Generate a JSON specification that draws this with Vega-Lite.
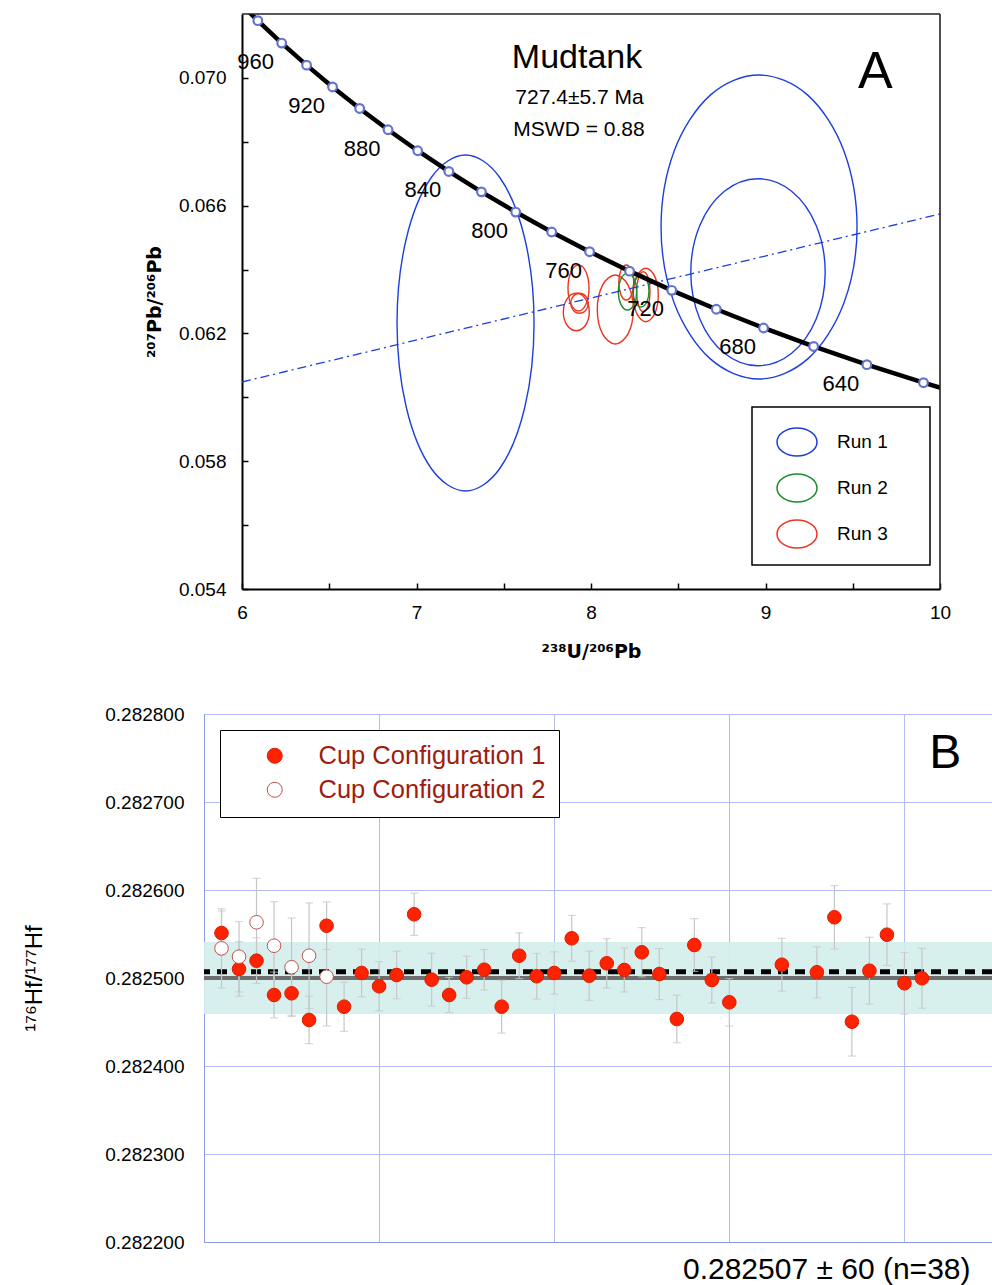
{
  "$schema": "https://vega.github.io/schema/vega-lite/v6.json",
  "background": "white",
  "padding": {"left": 22, "top": 11, "right": 0, "bottom": 0},
  "config": {"font": "Liberation Sans", "view": {"stroke": null}},
  "spacing": 43,
  "resolve": {
    "scale": {"color": "independent", "fill": "independent", "stroke": "independent"},
    "legend": {"color": "independent", "fill": "independent", "stroke": "independent"}
  },
  "datasets": {
    "conc": [
      {"t": 1000, "x": 5.95936, "y": 0.072501},
      {"t": 980, "x": 6.09066, "y": 0.071791},
      {"t": 960, "x": 6.22744, "y": 0.071090},
      {"t": 940, "x": 6.37005, "y": 0.070399},
      {"t": 920, "x": 6.51889, "y": 0.069716},
      {"t": 900, "x": 6.67433, "y": 0.069043},
      {"t": 880, "x": 6.83687, "y": 0.068377},
      {"t": 860, "x": 7.00696, "y": 0.067720},
      {"t": 840, "x": 7.18516, "y": 0.067071},
      {"t": 820, "x": 7.37210, "y": 0.066432},
      {"t": 800, "x": 7.56837, "y": 0.065800},
      {"t": 780, "x": 7.77473, "y": 0.065176},
      {"t": 760, "x": 7.99196, "y": 0.064559},
      {"t": 740, "x": 8.22098, "y": 0.063950},
      {"t": 720, "x": 8.46266, "y": 0.063350},
      {"t": 700, "x": 8.71823, "y": 0.062757},
      {"t": 680, "x": 8.98882, "y": 0.062171},
      {"t": 660, "x": 9.27583, "y": 0.061593},
      {"t": 640, "x": 9.58080, "y": 0.061022},
      {"t": 620, "x": 9.90546, "y": 0.060458},
      {"t": 600, "x": 10.2518, "y": 0.059901}
    ],
    "ell": [
      {"e": "E1", "run": "Run 1", "i": 0, "x": 7.6736, "y": 0.062327},
      {"e": "E1", "run": "Run 1", "i": 1, "x": 7.6210, "y": 0.064957},
      {"e": "E1", "run": "Run 1", "i": 2, "x": 7.4773, "y": 0.066881},
      {"e": "E1", "run": "Run 1", "i": 3, "x": 7.2810, "y": 0.067586},
      {"e": "E1", "run": "Run 1", "i": 4, "x": 7.0847, "y": 0.066881},
      {"e": "E1", "run": "Run 1", "i": 5, "x": 6.9410, "y": 0.064957},
      {"e": "E1", "run": "Run 1", "i": 6, "x": 6.8884, "y": 0.062327},
      {"e": "E1", "run": "Run 1", "i": 7, "x": 6.9410, "y": 0.059697},
      {"e": "E1", "run": "Run 1", "i": 8, "x": 7.0847, "y": 0.057773},
      {"e": "E1", "run": "Run 1", "i": 9, "x": 7.2810, "y": 0.057068},
      {"e": "E1", "run": "Run 1", "i": 10, "x": 7.4773, "y": 0.057773},
      {"e": "E1", "run": "Run 1", "i": 11, "x": 7.6210, "y": 0.059697},
      {"e": "E2", "run": "Run 1", "i": 0, "x": 9.5246, "y": 0.065332},
      {"e": "E2", "run": "Run 1", "i": 1, "x": 9.4493, "y": 0.067711},
      {"e": "E2", "run": "Run 1", "i": 2, "x": 9.2438, "y": 0.069452},
      {"e": "E2", "run": "Run 1", "i": 3, "x": 8.9630, "y": 0.070090},
      {"e": "E2", "run": "Run 1", "i": 4, "x": 8.6822, "y": 0.069452},
      {"e": "E2", "run": "Run 1", "i": 5, "x": 8.4767, "y": 0.067711},
      {"e": "E2", "run": "Run 1", "i": 6, "x": 8.4014, "y": 0.065332},
      {"e": "E2", "run": "Run 1", "i": 7, "x": 8.4767, "y": 0.062953},
      {"e": "E2", "run": "Run 1", "i": 8, "x": 8.6822, "y": 0.061212},
      {"e": "E2", "run": "Run 1", "i": 9, "x": 8.9630, "y": 0.060574},
      {"e": "E2", "run": "Run 1", "i": 10, "x": 9.2438, "y": 0.061212},
      {"e": "E2", "run": "Run 1", "i": 11, "x": 9.4493, "y": 0.062953},
      {"e": "E3", "run": "Run 1", "i": 0, "x": 9.3421, "y": 0.063917},
      {"e": "E3", "run": "Run 1", "i": 1, "x": 9.2905, "y": 0.065381},
      {"e": "E3", "run": "Run 1", "i": 2, "x": 9.1496, "y": 0.066452},
      {"e": "E3", "run": "Run 1", "i": 3, "x": 8.9570, "y": 0.066844},
      {"e": "E3", "run": "Run 1", "i": 4, "x": 8.7645, "y": 0.066452},
      {"e": "E3", "run": "Run 1", "i": 5, "x": 8.6235, "y": 0.065381},
      {"e": "E3", "run": "Run 1", "i": 6, "x": 8.5719, "y": 0.063917},
      {"e": "E3", "run": "Run 1", "i": 7, "x": 8.6235, "y": 0.062454},
      {"e": "E3", "run": "Run 1", "i": 8, "x": 8.7645, "y": 0.061382},
      {"e": "E3", "run": "Run 1", "i": 9, "x": 8.9570, "y": 0.060990},
      {"e": "E3", "run": "Run 1", "i": 10, "x": 9.1496, "y": 0.061382},
      {"e": "E3", "run": "Run 1", "i": 11, "x": 9.2905, "y": 0.062454},
      {"e": "R1", "run": "Run 3", "i": 0, "x": 7.9886, "y": 0.063423},
      {"e": "R1", "run": "Run 3", "i": 1, "x": 7.9710, "y": 0.063932},
      {"e": "R1", "run": "Run 3", "i": 2, "x": 7.9284, "y": 0.064143},
      {"e": "R1", "run": "Run 3", "i": 3, "x": 7.8858, "y": 0.063932},
      {"e": "R1", "run": "Run 3", "i": 4, "x": 7.8682, "y": 0.063423},
      {"e": "R1", "run": "Run 3", "i": 5, "x": 7.8858, "y": 0.062914},
      {"e": "R1", "run": "Run 3", "i": 6, "x": 7.9284, "y": 0.062703},
      {"e": "R1", "run": "Run 3", "i": 7, "x": 7.9710, "y": 0.062914},
      {"e": "R2", "run": "Run 3", "i": 0, "x": 7.9845, "y": 0.062944},
      {"e": "R2", "run": "Run 3", "i": 1, "x": 7.9698, "y": 0.063165},
      {"e": "R2", "run": "Run 3", "i": 2, "x": 7.9341, "y": 0.063257},
      {"e": "R2", "run": "Run 3", "i": 3, "x": 7.8985, "y": 0.063165},
      {"e": "R2", "run": "Run 3", "i": 4, "x": 7.8837, "y": 0.062944},
      {"e": "R2", "run": "Run 3", "i": 5, "x": 7.8985, "y": 0.062723},
      {"e": "R2", "run": "Run 3", "i": 6, "x": 7.9341, "y": 0.062631},
      {"e": "R2", "run": "Run 3", "i": 7, "x": 7.9698, "y": 0.062723},
      {"e": "R3", "run": "Run 3", "i": 0, "x": 7.9903, "y": 0.062671},
      {"e": "R3", "run": "Run 3", "i": 1, "x": 7.9685, "y": 0.063085},
      {"e": "R3", "run": "Run 3", "i": 2, "x": 7.9158, "y": 0.063256},
      {"e": "R3", "run": "Run 3", "i": 3, "x": 7.8631, "y": 0.063085},
      {"e": "R3", "run": "Run 3", "i": 4, "x": 7.8413, "y": 0.062671},
      {"e": "R3", "run": "Run 3", "i": 5, "x": 7.8631, "y": 0.062257},
      {"e": "R3", "run": "Run 3", "i": 6, "x": 7.9158, "y": 0.062086},
      {"e": "R3", "run": "Run 3", "i": 7, "x": 7.9685, "y": 0.062257},
      {"e": "R4", "run": "Run 3", "i": 0, "x": 8.2425, "y": 0.062750},
      {"e": "R4", "run": "Run 3", "i": 1, "x": 8.2123, "y": 0.063514},
      {"e": "R4", "run": "Run 3", "i": 2, "x": 8.1393, "y": 0.063830},
      {"e": "R4", "run": "Run 3", "i": 3, "x": 8.0663, "y": 0.063514},
      {"e": "R4", "run": "Run 3", "i": 4, "x": 8.0361, "y": 0.062750},
      {"e": "R4", "run": "Run 3", "i": 5, "x": 8.0663, "y": 0.061986},
      {"e": "R4", "run": "Run 3", "i": 6, "x": 8.1393, "y": 0.061670},
      {"e": "R4", "run": "Run 3", "i": 7, "x": 8.2123, "y": 0.061986},
      {"e": "R5", "run": "Run 3", "i": 0, "x": 8.2453, "y": 0.063595},
      {"e": "R5", "run": "Run 3", "i": 1, "x": 8.2327, "y": 0.063982},
      {"e": "R5", "run": "Run 3", "i": 2, "x": 8.2023, "y": 0.064143},
      {"e": "R5", "run": "Run 3", "i": 3, "x": 8.1719, "y": 0.063982},
      {"e": "R5", "run": "Run 3", "i": 4, "x": 8.1593, "y": 0.063595},
      {"e": "R5", "run": "Run 3", "i": 5, "x": 8.1719, "y": 0.063208},
      {"e": "R5", "run": "Run 3", "i": 6, "x": 8.2023, "y": 0.063047},
      {"e": "R5", "run": "Run 3", "i": 7, "x": 8.2327, "y": 0.063208},
      {"e": "R6", "run": "Run 3", "i": 0, "x": 8.3856, "y": 0.063204},
      {"e": "R6", "run": "Run 3", "i": 1, "x": 8.3646, "y": 0.063795},
      {"e": "R6", "run": "Run 3", "i": 2, "x": 8.3140, "y": 0.064040},
      {"e": "R6", "run": "Run 3", "i": 3, "x": 8.2634, "y": 0.063795},
      {"e": "R6", "run": "Run 3", "i": 4, "x": 8.2424, "y": 0.063204},
      {"e": "R6", "run": "Run 3", "i": 5, "x": 8.2634, "y": 0.062613},
      {"e": "R6", "run": "Run 3", "i": 6, "x": 8.3140, "y": 0.062368},
      {"e": "R6", "run": "Run 3", "i": 7, "x": 8.3646, "y": 0.062613},
      {"e": "R7", "run": "Run 3", "i": 0, "x": 8.3381, "y": 0.063307},
      {"e": "R7", "run": "Run 3", "i": 1, "x": 8.3269, "y": 0.063750},
      {"e": "R7", "run": "Run 3", "i": 2, "x": 8.2997, "y": 0.063933},
      {"e": "R7", "run": "Run 3", "i": 3, "x": 8.2726, "y": 0.063750},
      {"e": "R7", "run": "Run 3", "i": 4, "x": 8.2613, "y": 0.063307},
      {"e": "R7", "run": "Run 3", "i": 5, "x": 8.2726, "y": 0.062864},
      {"e": "R7", "run": "Run 3", "i": 6, "x": 8.2997, "y": 0.062681},
      {"e": "R7", "run": "Run 3", "i": 7, "x": 8.3269, "y": 0.062864},
      {"e": "G1", "run": "Run 2", "i": 0, "x": 8.2619, "y": 0.063307},
      {"e": "G1", "run": "Run 2", "i": 1, "x": 8.2465, "y": 0.063712},
      {"e": "G1", "run": "Run 2", "i": 2, "x": 8.2092, "y": 0.063880},
      {"e": "G1", "run": "Run 2", "i": 3, "x": 8.1719, "y": 0.063712},
      {"e": "G1", "run": "Run 2", "i": 4, "x": 8.1565, "y": 0.063307},
      {"e": "G1", "run": "Run 2", "i": 5, "x": 8.1719, "y": 0.062902},
      {"e": "G1", "run": "Run 2", "i": 6, "x": 8.2092, "y": 0.062734},
      {"e": "G1", "run": "Run 2", "i": 7, "x": 8.2465, "y": 0.062902},
      {"e": "G2", "run": "Run 2", "i": 0, "x": 8.3323, "y": 0.063329},
      {"e": "G2", "run": "Run 2", "i": 1, "x": 8.3189, "y": 0.063683},
      {"e": "G2", "run": "Run 2", "i": 2, "x": 8.2865, "y": 0.063829},
      {"e": "G2", "run": "Run 2", "i": 3, "x": 8.2541, "y": 0.063683},
      {"e": "G2", "run": "Run 2", "i": 4, "x": 8.2407, "y": 0.063329},
      {"e": "G2", "run": "Run 2", "i": 5, "x": 8.2541, "y": 0.062975},
      {"e": "G2", "run": "Run 2", "i": 6, "x": 8.2865, "y": 0.062829},
      {"e": "G2", "run": "Run 2", "i": 7, "x": 8.3189, "y": 0.062975}
    ],
    "hf": [
      {"i": 1, "v": 0.2825511, "err": 0.000025, "cfg": "Cup Configuration 1"},
      {"i": 2, "v": 0.2825102, "err": 0.000031, "cfg": "Cup Configuration 1"},
      {"i": 3, "v": 0.2825197, "err": 0.000026, "cfg": "Cup Configuration 1"},
      {"i": 4, "v": 0.2824807, "err": 0.000026, "cfg": "Cup Configuration 1"},
      {"i": 5, "v": 0.2824826, "err": 0.000025, "cfg": "Cup Configuration 1"},
      {"i": 6, "v": 0.2824523, "err": 0.000027, "cfg": "Cup Configuration 1"},
      {"i": 7, "v": 0.2825594, "err": 0.000027, "cfg": "Cup Configuration 1"},
      {"i": 8, "v": 0.2824674, "err": 0.000028, "cfg": "Cup Configuration 1"},
      {"i": 9, "v": 0.2825057, "err": 0.000027, "cfg": "Cup Configuration 1"},
      {"i": 10, "v": 0.2824906, "err": 0.000028, "cfg": "Cup Configuration 1"},
      {"i": 11, "v": 0.2825034, "err": 0.000027, "cfg": "Cup Configuration 1"},
      {"i": 12, "v": 0.2825724, "err": 0.000024, "cfg": "Cup Configuration 1"},
      {"i": 13, "v": 0.2824981, "err": 0.000030, "cfg": "Cup Configuration 1"},
      {"i": 14, "v": 0.2824807, "err": 0.000020, "cfg": "Cup Configuration 1"},
      {"i": 15, "v": 0.2825008, "err": 0.000024, "cfg": "Cup Configuration 1"},
      {"i": 16, "v": 0.2825094, "err": 0.000023, "cfg": "Cup Configuration 1"},
      {"i": 17, "v": 0.2824674, "err": 0.000030, "cfg": "Cup Configuration 1"},
      {"i": 18, "v": 0.2825253, "err": 0.000026, "cfg": "Cup Configuration 1"},
      {"i": 19, "v": 0.2825020, "err": 0.000026, "cfg": "Cup Configuration 1"},
      {"i": 20, "v": 0.2825057, "err": 0.000024, "cfg": "Cup Configuration 1"},
      {"i": 21, "v": 0.2825451, "err": 0.000026, "cfg": "Cup Configuration 1"},
      {"i": 22, "v": 0.2825026, "err": 0.000028, "cfg": "Cup Configuration 1"},
      {"i": 23, "v": 0.2825167, "err": 0.000028, "cfg": "Cup Configuration 1"},
      {"i": 24, "v": 0.2825091, "err": 0.000025, "cfg": "Cup Configuration 1"},
      {"i": 25, "v": 0.2825292, "err": 0.000028, "cfg": "Cup Configuration 1"},
      {"i": 26, "v": 0.2825045, "err": 0.000029, "cfg": "Cup Configuration 1"},
      {"i": 27, "v": 0.2824534, "err": 0.000027, "cfg": "Cup Configuration 1"},
      {"i": 28, "v": 0.2825375, "err": 0.000030, "cfg": "Cup Configuration 1"},
      {"i": 29, "v": 0.2824977, "err": 0.000026, "cfg": "Cup Configuration 1"},
      {"i": 30, "v": 0.2824724, "err": 0.000027, "cfg": "Cup Configuration 1"},
      {"i": 33, "v": 0.2825151, "err": 0.000030, "cfg": "Cup Configuration 1"},
      {"i": 35, "v": 0.2825065, "err": 0.000029, "cfg": "Cup Configuration 1"},
      {"i": 36, "v": 0.2825690, "err": 0.000036, "cfg": "Cup Configuration 1"},
      {"i": 37, "v": 0.2824503, "err": 0.000039, "cfg": "Cup Configuration 1"},
      {"i": 38, "v": 0.2825083, "err": 0.000038, "cfg": "Cup Configuration 1"},
      {"i": 39, "v": 0.2825492, "err": 0.000035, "cfg": "Cup Configuration 1"},
      {"i": 40, "v": 0.2824940, "err": 0.000035, "cfg": "Cup Configuration 1"},
      {"i": 41, "v": 0.2824997, "err": 0.000034, "cfg": "Cup Configuration 1"},
      {"i": 1, "v": 0.2825337, "err": 0.000045, "cfg": "Cup Configuration 2"},
      {"i": 2, "v": 0.2825242, "err": 0.000040, "cfg": "Cup Configuration 2"},
      {"i": 3, "v": 0.2825633, "err": 0.000050, "cfg": "Cup Configuration 2"},
      {"i": 4, "v": 0.2825367, "err": 0.000050, "cfg": "Cup Configuration 2"},
      {"i": 5, "v": 0.2825122, "err": 0.000056, "cfg": "Cup Configuration 2"},
      {"i": 6, "v": 0.2825253, "err": 0.000060, "cfg": "Cup Configuration 2"},
      {"i": 7, "v": 0.2825015, "err": 0.000056, "cfg": "Cup Configuration 2"}
    ]
  },
  "vconcat": [
    {
      "width": 736,
      "height": 575,
      "view": {"stroke": null},
      "layer": [
        {
          "data": {"name": "ell"},
          "mark": {"type": "line", "interpolate": "cardinal-closed", "strokeWidth": 1.4},
          "encoding": {
            "x": {
              "field": "x", "type": "quantitative",
              "scale": {"domain": [6, 10], "range": [38, 736], "nice": false, "zero": false},
              "axis": {
                "title": "²³⁸U/²⁰⁶Pb",
                "values": [6, 6.5, 7, 7.5, 8, 8.5, 9, 9.5, 10],
                "labelExpr": "datum.value % 1 === 0 ? format(datum.value, 'd') : ''",
                "labelOverlap": false, "labelFlush": false,
                "labelFontSize": 19, "labelColor": "black", "labelPadding": 20,
                "tickSize": -6, "tickColor": "black", "tickWidth": 1.5,
                "domainColor": "black", "domainWidth": 2, "grid": false,
                "titleFont": "DejaVu Sans", "titleFontSize": 19, "titleFontWeight": "bold", "titleColor": "black",
                "titleX": 387, "titlePadding": 20
              }
            },
            "y": {
              "field": "y", "type": "quantitative",
              "scale": {"domain": [0.054, 0.072], "nice": false, "zero": false},
              "axis": {
                "title": "²⁰⁷Pb/²⁰⁶Pb",
                "offset": -38,
                "values": [0.054, 0.056, 0.058, 0.06, 0.062, 0.064, 0.066, 0.068, 0.07],
                "labelExpr": "round(datum.value * 1000) % 4 === 2 ? format(datum.value, '.3f') : ''",
                "labelOverlap": false, "labelFlush": false,
                "labelFontSize": 19, "labelColor": "black", "labelPadding": 22,
                "tickSize": -6, "tickColor": "black", "tickWidth": 1.5,
                "domainColor": "black", "domainWidth": 2, "grid": false,
                "titleFont": "DejaVu Sans", "titleFontSize": 19, "titleFontWeight": "bold", "titleColor": "black",
                "titlePadding": 14
              }
            },
            "color": {
              "field": "run", "type": "nominal",
              "scale": {"domain": ["Run 1", "Run 2", "Run 3"], "range": ["#1d3fdc", "#1e8c2a", "#ec3520"]},
              "legend": {
                "orient": "none", "legendX": 548, "legendY": 393, "title": ".",
                "titleOrient": "right", "titleOpacity": 0, "titlePadding": 24,
                "padding": 14, "symbolOffset": 10,
                "symbolType": "M -1 0 A 1 0.7 0 1 0 1 0 A 1 0.7 0 1 0 -1 0 Z",
                "symbolSize": 1600, "symbolStrokeWidth": 1.5, "symbolFillColor": "transparent",
                "labelFontSize": 19, "labelOffset": 19, "labelColor": "black", "rowPadding": 8,
                "labelLimit": 300,
                "strokeColor": "black", "fillColor": "white",
                "encode": {
                  "legend": {"update": {"strokeWidth": {"value": 1.5}}},
                  "symbols": {"update": {"stroke": {"signal": "datum.value === 'Run 1' ? '#4a8cf6' : datum.value === 'Run 2' ? '#6b7a3c' : '#b3261a'"}}}
                }
              }
            },
            "detail": {"field": "e", "type": "nominal"},
            "order": {"field": "i", "type": "quantitative"}
          }
        },
        {
          "data": {"values": [{"x": 6, "y": 0.06048, "x2": 10, "y2": 0.06574}]},
          "mark": {"type": "rule", "color": "#1d3fdc", "strokeWidth": 1.3, "strokeDash": [9, 4, 2, 4]},
          "encoding": {
            "x": {"field": "x", "type": "quantitative"},
            "y": {"field": "y", "type": "quantitative"},
            "x2": {"field": "x2"},
            "y2": {"field": "y2"}
          }
        },
        {
          "data": {"name": "conc"},
          "mark": {"type": "line", "color": "black", "strokeWidth": 4.5, "clip": true},
          "encoding": {
            "x": {"field": "x", "type": "quantitative"},
            "y": {"field": "y", "type": "quantitative"},
            "order": {"field": "t", "type": "quantitative"}
          }
        },
        {
          "data": {"name": "conc"},
          "transform": [{"filter": "datum.t >= 620 && datum.t <= 980"}],
          "mark": {"type": "point", "shape": "circle", "filled": true, "fill": "white", "stroke": "#6474cc", "strokeWidth": 2.2, "size": 75, "opacity": 1},
          "encoding": {
            "x": {"field": "x", "type": "quantitative"},
            "y": {"field": "y", "type": "quantitative"}
          }
        },
        {
          "data": {"name": "conc"},
          "transform": [{"filter": "datum.t % 40 === 0 && datum.t >= 640 && datum.t <= 960"}],
          "mark": {"type": "text", "fontSize": 22, "color": "black", "dx": -26, "dy": 19, "align": "center", "baseline": "middle"},
          "encoding": {
            "x": {"field": "x", "type": "quantitative"},
            "y": {"field": "y", "type": "quantitative"},
            "text": {"field": "t", "type": "quantitative", "format": "d"}
          }
        },
        {
          "data": {"values": [{"x": 6, "y": 0.072, "x2": 10, "y2": 0.072}, {"x": 10, "y": 0.054, "x2": 10, "y2": 0.072}]},
          "mark": {"type": "rule", "color": "#222222", "strokeWidth": 1.6},
          "encoding": {
            "x": {"field": "x", "type": "quantitative"},
            "y": {"field": "y", "type": "quantitative"},
            "x2": {"field": "x2"},
            "y2": {"field": "y2"}
          }
        },
        {
          "data": {"values": [{"x": 7.92, "y": 0.070623, "t": "Mudtank"}]},
          "mark": {"type": "text", "fontSize": 34, "color": "black", "align": "center", "baseline": "middle"},
          "encoding": {
            "x": {"field": "x", "type": "quantitative"},
            "y": {"field": "y", "type": "quantitative"},
            "text": {"field": "t"}
          }
        },
        {
          "data": {"values": [{"x": 7.934, "y": 0.06937, "t": "727.4±5.7 Ma"}, {"x": 7.931, "y": 0.068369, "t": "MSWD = 0.88"}]},
          "mark": {"type": "text", "fontSize": 21, "color": "black", "align": "center", "baseline": "middle"},
          "encoding": {
            "x": {"field": "x", "type": "quantitative"},
            "y": {"field": "y", "type": "quantitative"},
            "text": {"field": "t"}
          }
        },
        {
          "data": {"values": [{"x": 9.63, "y": 0.070184, "t": "A"}]},
          "mark": {"type": "text", "fontSize": 52, "color": "black", "align": "center", "baseline": "middle"},
          "encoding": {
            "x": {"field": "x", "type": "quantitative"},
            "y": {"field": "y", "type": "quantitative"},
            "text": {"field": "t"}
          }
        }
      ]
    },
    {
      "width": 788,
      "height": 528,
      "view": {"stroke": "#8c9aec", "strokeWidth": 1},
      "layer": [
        {
          "data": {"values": [{"lo": 0.282459, "hi": 0.282541}]},
          "mark": {"type": "rect", "color": "#d3eeec", "opacity": 0.9},
          "encoding": {
            "y": {"field": "lo", "type": "quantitative", "scale": {"domain": [0.2822, 0.2828], "nice": false, "zero": false}},
            "y2": {"field": "hi"}
          }
        },
        {
          "data": {"values": [{"m": 0.2825}]},
          "mark": {"type": "rule", "color": "#6e6e6e", "strokeWidth": 4},
          "encoding": {"y": {"field": "m", "type": "quantitative"}}
        },
        {
          "data": {"values": [{"m": 0.282507}]},
          "mark": {"type": "rule", "color": "black", "strokeWidth": 5, "strokeDash": [10, 7]},
          "encoding": {"y": {"field": "m", "type": "quantitative"}}
        },
        {
          "data": {"name": "hf"},
          "mark": {"type": "errorbar", "ticks": true, "size": 8, "thickness": 1.2, "color": "#c6c6c6"},
          "encoding": {
            "x": {
              "field": "i", "type": "quantitative",
              "scale": {"domain": [0, 45], "nice": false, "zero": false},
              "axis": {
                "values": [0, 10, 20, 30, 40],
                "labels": false, "ticks": false,
                "domainColor": "#8c9aec", "grid": true, "gridColor": "#b3bbf2", "gridWidth": 1,
                "title": "0.282507 ± 60 (n=38)",
                "titleFontSize": 30, "titleFontWeight": "normal", "titleColor": "black",
                "titleX": 766, "titleY": 27, "titleAlign": "right", "titleBaseline": "middle"
              }
            },
            "y": {
              "field": "v", "type": "quantitative",
              "scale": {"domain": [0.2822, 0.2828], "nice": false, "zero": false},
              "axis": {
                "values": [0.2822, 0.2823, 0.2824, 0.2825, 0.2826, 0.2827, 0.2828],
                "format": ".6f", "labelFlush": false, "labelOverlap": false,
                "labelFontSize": 19, "labelColor": "black", "labelPadding": 20,
                "ticks": false,
                "domainColor": "#8c9aec", "grid": true, "gridColor": "#b3bbf2", "gridWidth": 1,
                "title": "¹⁷⁶Hf/¹⁷⁷Hf",
                "titleFontSize": 24, "titleFontWeight": "normal", "titleColor": "black",
                "titlePadding": 58
              }
            },
            "yError": {"field": "err"}
          }
        },
        {
          "data": {"name": "hf"},
          "mark": {"type": "point", "shape": "circle", "filled": true, "size": 185, "strokeWidth": 1, "opacity": 1},
          "encoding": {
            "x": {"field": "i", "type": "quantitative"},
            "y": {"field": "v", "type": "quantitative"},
            "fill": {
              "field": "cfg", "type": "nominal",
              "scale": {"domain": ["Cup Configuration 1", "Cup Configuration 2"], "range": ["#ff2200", "#ffffff"]},
              "legend": {
                "orient": "none", "legendX": 16, "legendY": 16, "title": null,
                "padding": 13, "symbolOffset": 29, "symbolType": "circle", "symbolSize": 225,
                "symbolStrokeColor": "#c8351e", "symbolStrokeWidth": 1,
                "labelFontSize": 25.5, "labelColor": "#a01c0c", "labelOffset": 31, "rowPadding": 7,
                "labelLimit": 400,
                "strokeColor": "black", "fillColor": "white",
                "encode": {"legend": {"update": {"strokeWidth": {"value": 2}}}}
              }
            },
            "stroke": {
              "field": "cfg", "type": "nominal",
              "scale": {"domain": ["Cup Configuration 1", "Cup Configuration 2"], "range": ["#d42000", "#c0504d"]},
              "legend": null
            }
          }
        },
        {
          "data": {"values": [{"x": 42.33, "y": 0.2827545, "t": "B"}]},
          "mark": {"type": "text", "fontSize": 48, "color": "black", "align": "center", "baseline": "middle"},
          "encoding": {
            "x": {"field": "x", "type": "quantitative"},
            "y": {"field": "y", "type": "quantitative"},
            "text": {"field": "t"}
          }
        }
      ]
    }
  ]
}
